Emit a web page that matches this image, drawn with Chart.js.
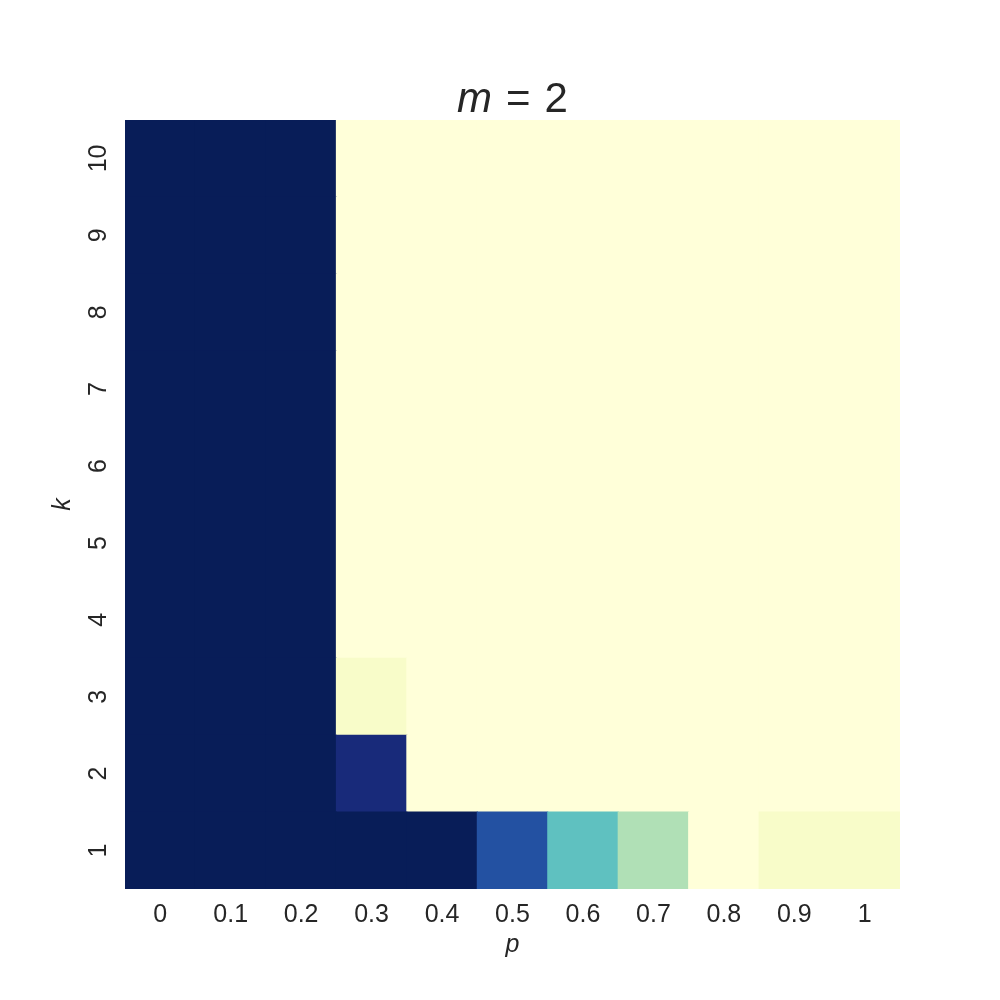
<!DOCTYPE html>
<html>
<head>
<meta charset="utf-8">
<script src="https://cdn.jsdelivr.net/npm/chart.js@4"></script>
<style>
  html, body { margin: 0; padding: 0; background: #fff; }
  #wrap { width: 1000px; height: 1000px; }
</style>
</head>
<body>
<div id="wrap"><canvas id="heat" width="1000" height="1000"></canvas></div>
<script>
const pLabels = ['0', '0.1', '0.2', '0.3', '0.4', '0.5', '0.6', '0.7', '0.8', '0.9', '1'];
const kLabels = [1, 2, 3, 4, 5, 6, 7, 8, 9, 10];

// one row of values per k (k = 1 .. 10), columns follow pLabels
const row1 = [1, 1, 1, 1, 1, 0.79, 0.44, 0.29, 0, 0.05, 0.05];
const row2 = [1, 1, 1, 0.93, 0, 0, 0, 0, 0, 0, 0];
const row3 = [1, 1, 1, 0.05, 0, 0, 0, 0, 0, 0, 0];
const row4 = [1, 1, 1, 0, 0, 0, 0, 0, 0, 0, 0];
const row5 = [1, 1, 1, 0, 0, 0, 0, 0, 0, 0, 0];
const row6 = [1, 1, 1, 0, 0, 0, 0, 0, 0, 0, 0];
const row7 = [1, 1, 1, 0, 0, 0, 0, 0, 0, 0, 0];
const row8 = [1, 1, 1, 0, 0, 0, 0, 0, 0, 0, 0];
const row9 = [1, 1, 1, 0, 0, 0, 0, 0, 0, 0, 0];
const row10 = [1, 1, 1, 0, 0, 0, 0, 0, 0, 0, 0];
const rows = [row1, row2, row3, row4, row5, row6, row7, row8, row9, row10];

// YlGnBu stops
const cmap = ['#ffffd9', '#edf8b1', '#c7e9b4', '#7fcdbb', '#41b6c4', '#1d91c0', '#225ea8', '#253494', '#081d58'];

function hexToRgb(h){
    return [parseInt(h.slice(1,3),16), parseInt(h.slice(3,5),16), parseInt(h.slice(5,7),16)];
}

function colorFor(v){
    const t = Math.max(0, Math.min(1, v)) * (cmap.length - 1);
    const i = Math.min(Math.floor(t), cmap.length - 2);
    const f = t - i;
    const a = hexToRgb(cmap[i]);
    const b = hexToRgb(cmap[i + 1]);
    const c = a.map((x, j) => Math.round(x + (b[j] - x) * f));
    return 'rgb(' + c.join(',') + ')';
}

const textColor = '#262626';
const fontFamily = '"Liberation Sans", Arial, sans-serif';

const datasets = kLabels.map(function(k, r){
    return {
        label: 'k=' + k,
        data: rows[r].map(() => [k - 0.5, k + 0.5]),
        backgroundColor: rows[r].map(colorFor),
        borderWidth: 0,
        borderSkipped: false,
        inflateAmount: 0.5,
        barPercentage: 1,
        categoryPercentage: 1,
        grouped: false
    };
});

// draws "m = 2" with italic m, spaced like mathtext
const titlePlugin = {
    id: 'mixedTitle',
    afterDraw(chart){
        const ctx = chart.ctx;
        const cx = (chart.chartArea.left + chart.chartArea.right) / 2;
        const gap = 14;
        ctx.save();
        ctx.fillStyle = textColor;
        ctx.textBaseline = 'alphabetic';
        ctx.textAlign = 'left';
        const italic = 'italic 42px ' + fontFamily;
        const normal = '42px ' + fontFamily;
        ctx.font = italic;
        const w1 = ctx.measureText('m').width;
        ctx.font = normal;
        const w2 = ctx.measureText('=').width;
        const w3 = ctx.measureText('2').width;
        let x = cx - (w1 + w2 + w3 + 2 * gap) / 2;
        ctx.font = italic;
        ctx.fillText('m', x, 112);
        ctx.font = normal;
        ctx.fillText('=', x + w1 + gap, 112);
        ctx.fillText('2', x + w1 + w2 + 2 * gap, 112);
        ctx.restore();
    }
};

new Chart(document.getElementById('heat'), {
    type: 'bar',
    data: { labels: pLabels, datasets: datasets },
    plugins: [titlePlugin],
    options: {
        responsive: false,
        animation: false,
        layout: { padding: { top: 120, right: 100, bottom: 0, left: 0 } },
        plugins: {
            legend: { display: false },
            tooltip: { enabled: false }
        },
        scales: {
            x: {
                type: 'category',
                offset: true,
                grid: { display: false, drawTicks: false },
                border: { display: false },
                ticks: {
                    color: textColor,
                    font: { family: fontFamily, size: 25 },
                    padding: 11,
                    maxRotation: 0,
                    minRotation: 0
                },
                title: {
                    display: true,
                    text: 'p',
                    color: textColor,
                    font: { family: fontFamily, size: 25, style: 'italic' },
                    padding: { top: 40, bottom: 40 }
                },
                afterFit(scale){ scale.height = 111; }
            },
            y: {
                type: 'linear',
                min: 0.5,
                max: 10.5,
                grid: { display: false, drawTicks: false },
                border: { display: false },
                afterBuildTicks(scale){
                    scale.ticks = kLabels.map(v => ({ value: v }));
                },
                ticks: {
                    color: textColor,
                    font: { family: fontFamily, size: 25 },
                    minRotation: 90,
                    maxRotation: 90,
                    crossAlign: 'center',
                    padding: 12
                },
                title: {
                    display: true,
                    text: 'k',
                    color: textColor,
                    font: { family: fontFamily, size: 25, style: 'italic' },
                    padding: { top: 48, bottom: 48 }
                },
                afterFit(scale){ scale.width = 125; }
            }
        }
    }
});
</script>
</body>
</html>
